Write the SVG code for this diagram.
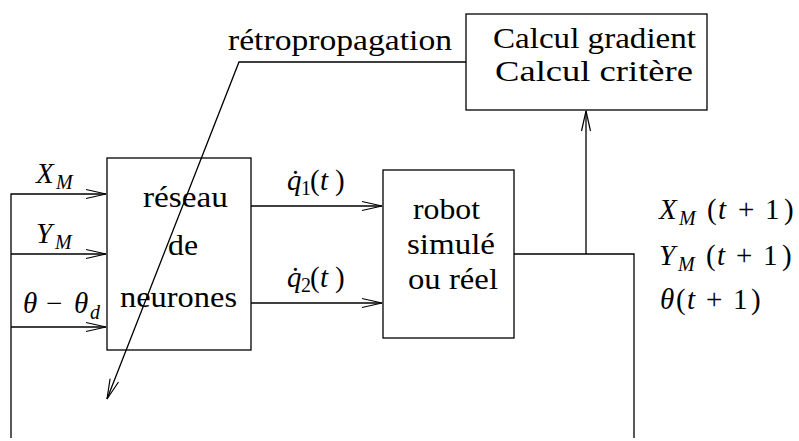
<svg xmlns="http://www.w3.org/2000/svg" width="799" height="441" viewBox="0 0 799 441">
<style>
.box{fill:none;stroke:#000;stroke-width:1.3}
.ln{fill:none;stroke:#000;stroke-width:1.3}
</style>
<defs>
<marker id="arr" markerUnits="userSpaceOnUse" markerWidth="22" markerHeight="10" refX="20" refY="4.5" orient="auto" overflow="visible">
<path d="M0,0 L20,4.5 L0,9" fill="none" stroke="#000" stroke-width="1.2"/>
</marker>
</defs>
<rect width="799" height="441" fill="#fff"/>
<g id="connectors">
<polyline class="ln" points="11,438 11,194 106,194" marker-end="url(#arr)"/>
<line class="ln" x1="11" y1="254" x2="106" y2="254" marker-end="url(#arr)"/>
<line class="ln" x1="11" y1="327" x2="106" y2="327" marker-end="url(#arr)"/>
<line class="ln" x1="251" y1="206" x2="382" y2="206" marker-end="url(#arr)"/>
<line class="ln" x1="251" y1="303" x2="382" y2="303" marker-end="url(#arr)"/>
<polyline class="ln" points="514,254 634,254 634,438"/>
<line class="ln" x1="586" y1="254" x2="586" y2="111" marker-end="url(#arr)"/>
<polyline class="ln" points="466,62 239,62 107,399" marker-end="url(#arr)"/>
</g>
<g id="calcul">
<rect class="box" x="466" y="14" width="241" height="96"/>
<text font-family="Liberation Serif" font-size="29" x="493" y="48" textLength="203" lengthAdjust="spacingAndGlyphs">Calcul gradient</text>
<text font-family="Liberation Serif" font-size="29" x="495" y="81" textLength="198" lengthAdjust="spacingAndGlyphs">Calcul critère</text>
</g>
<g id="retro-label">
<text font-family="Liberation Serif" font-size="29" x="228" y="50" textLength="224" lengthAdjust="spacingAndGlyphs">rétropropagation</text>
</g>
<g id="reseau">
<rect class="box" x="107" y="158" width="144" height="192"/>
<text font-family="Liberation Serif" font-size="29" x="143" y="207" textLength="85" lengthAdjust="spacingAndGlyphs">réseau</text>
<text font-family="Liberation Serif" font-size="29" x="168" y="255" textLength="30" lengthAdjust="spacingAndGlyphs">de</text>
<text font-family="Liberation Serif" font-size="29" x="120" y="307" textLength="117" lengthAdjust="spacingAndGlyphs">neurones</text>
</g>
<g id="robot">
<rect class="box" x="383" y="170" width="131" height="168"/>
<text font-family="Liberation Serif" font-size="29" x="413" y="219" textLength="67" lengthAdjust="spacingAndGlyphs">robot</text>
<text font-family="Liberation Serif" font-size="29" x="407" y="254" textLength="88" lengthAdjust="spacingAndGlyphs">simulé</text>
<text font-family="Liberation Serif" font-size="29" x="408" y="289" textLength="90" lengthAdjust="spacingAndGlyphs">ou réel</text>
</g>
<g id="inputs">
<text font-family="Liberation Serif" font-size="29" font-style="italic" x="36" y="183">X<tspan font-size="20" x="56" dy="6">M</tspan></text>
<text font-family="Liberation Serif" font-size="29" font-style="italic" x="36" y="243">Y<tspan font-size="20" x="55" dy="6">M</tspan></text>
<text font-family="Liberation Serif" font-size="29" font-style="italic" x="23" y="313">θ<tspan font-style="normal" x="46">−</tspan><tspan x="74">θ</tspan><tspan font-size="20" x="90" dy="6">d</tspan></text>
</g>
<g id="commands">
<text font-family="Liberation Serif" font-size="29" font-style="italic" x="287" y="190">q̇<tspan font-style="normal" font-size="20" x="301" dy="5">1</tspan><tspan font-style="normal" x="310" dy="-5">(</tspan><tspan x="320">t</tspan><tspan font-style="normal" x="335">)</tspan></text>
<text font-family="Liberation Serif" font-size="29" font-style="italic" x="287" y="287">q̇<tspan font-style="normal" font-size="20" x="301" dy="5">2</tspan><tspan font-style="normal" x="310" dy="-5">(</tspan><tspan x="320">t</tspan><tspan font-style="normal" x="335">)</tspan></text>
</g>
<g id="outputs">
<text font-family="Liberation Serif" font-size="29" font-style="italic" x="659" y="219">X<tspan font-size="20" x="679" dy="6">M</tspan><tspan font-style="normal" x="707" dy="-6">(</tspan><tspan x="718">t</tspan><tspan font-style="normal" x="738">+</tspan><tspan font-style="normal" x="765">1</tspan><tspan font-style="normal" x="784">)</tspan></text>
<text font-family="Liberation Serif" font-size="29" font-style="italic" x="659" y="265">Y<tspan font-size="20" x="678" dy="6">M</tspan><tspan font-style="normal" x="706" dy="-6">(</tspan><tspan x="717">t</tspan><tspan font-style="normal" x="736">+</tspan><tspan font-style="normal" x="763">1</tspan><tspan font-style="normal" x="782">)</tspan></text>
<text font-family="Liberation Serif" font-size="29" font-style="italic" x="660" y="309">θ<tspan font-style="normal" x="676">(</tspan><tspan x="687">t</tspan><tspan font-style="normal" x="706">+</tspan><tspan font-style="normal" x="733">1</tspan><tspan font-style="normal" x="751">)</tspan></text>
</g>
</svg>
